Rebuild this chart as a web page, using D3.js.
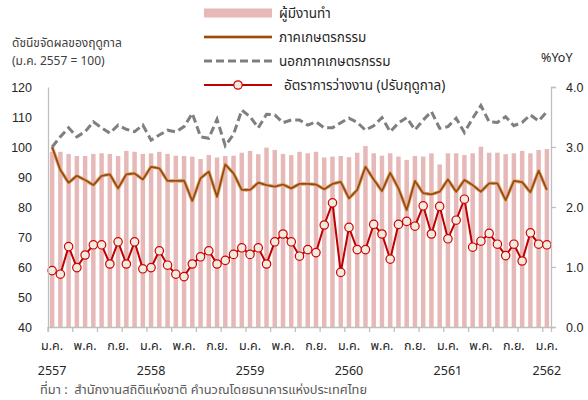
<!DOCTYPE html>
<html>
<head>
<meta charset="utf-8">
<script src="https://cdn.jsdelivr.net/npm/d3@7"></script>
<style>
  body { margin: 0; background: #fff; }
  svg { font-family: Tahoma, "Noto Sans Thai", "Leelawadee UI", sans-serif; }
</style>
</head>
<body>
<div id="container"></div>
<script>
// chart size
const width = 588;
const height = 400;
const marginLeft = 48;
const marginRight = 37;
const marginTop = 87;
const marginBottom = 73;

// month names and years for the categories (Jan 2557 .. Jan 2562)
const monthNames = ["ม.ค.", "ก.พ.", "มี.ค.", "เม.ย.", "พ.ค.", "มิ.ย.", "ก.ค.", "ส.ค.", "ก.ย.", "ต.ค.", "พ.ย.", "ธ.ค."];
const years = [2557, 2558, 2559, 2560, 2561, 2562];
const categories = years.flatMap(y => monthNames.map(m => `${m} ${y}`)).slice(0, 61);

// x tick labels (every 4 months) and year labels
const monthTickLabels = ["ม.ค.", "พ.ค.", "ก.ย."];
const yearTickLabels = ["2557", "2558", "2559", "2560", "2561", "2562"];

// ผู้มีงานทำ (index, bars)
const employed = [98.4, 98.4, 97.7, 97.0, 97.0, 97.7, 97.9, 97.7, 97.0, 98.7,
  98.4, 97.7, 97.9, 98.4, 97.7, 97.1, 97.0, 96.8, 96.0, 97.3,
  96.5, 97.0, 97.1, 98.1, 98.7, 97.6, 99.8, 99.0, 97.7, 97.3,
  98.4, 97.9, 98.4, 96.5, 96.8, 97.0, 96.6, 98.1, 100.3, 97.9,
  97.1, 97.9, 96.8, 95.7, 97.0, 96.8, 97.9, 94.2, 97.9, 97.9,
  97.3, 97.9, 100.1, 98.1, 98.1, 97.6, 97.9, 98.7, 97.9, 99.0, 99.3];

// ภาคเกษตรกรรม
const agri = [100.0, 92.3, 88.1, 90.4, 89.0, 87.3, 90.4, 90.9, 86.2, 90.9,
  91.2, 89.2, 93.4, 92.9, 88.7, 88.7, 88.8, 82.0, 89.6, 91.8,
  83.4, 94.2, 91.2, 85.7, 85.7, 88.1, 87.3, 86.8, 87.5, 86.2,
  87.7, 87.7, 87.5, 85.9, 87.7, 88.4, 82.9, 85.7, 93.4, 89.2,
  85.3, 91.4, 86.2, 79.0, 88.7, 84.6, 84.2, 85.1, 89.2, 85.1,
  89.0, 87.3, 85.1, 87.9, 87.9, 82.3, 88.7, 88.3, 84.9, 92.1, 85.7];

// นอกภาคเกษตรกรรม
const nonAgri = [100.0, 103.4, 106.4, 103.4, 105.1, 108.4, 106.4, 104.6, 107.3, 105.9,
  105.1, 107.3, 102.3, 104.0, 105.6, 105.0, 106.8, 111.2, 103.4, 102.9,
  109.2, 100.4, 104.2, 112.3, 110.1, 106.4, 110.9, 110.7, 108.1, 109.0,
  109.0, 107.3, 108.4, 106.4, 106.4, 108.1, 109.6, 108.2, 105.6, 107.1,
  109.8, 105.1, 108.0, 109.8, 105.7, 109.0, 111.8, 106.2, 106.8, 109.6,
  104.8, 109.6, 113.8, 108.4, 108.2, 110.1, 107.1, 108.2, 110.7, 108.7, 111.8];

// อัตราการว่างงาน (ปรับฤดูกาล), right axis
const unemployment = [0.94, 0.88, 1.34, 0.99, 1.20, 1.37, 1.37, 1.05, 1.42, 1.05,
  1.42, 0.97, 0.99, 1.27, 1.03, 0.88, 0.84, 1.05, 1.17, 1.27,
  1.05, 1.11, 1.21, 1.32, 1.21, 1.32, 1.05, 1.42, 1.55, 1.42,
  1.18, 1.29, 1.24, 1.70, 2.07, 0.91, 1.66, 1.29, 1.29, 1.71,
  1.55, 1.13, 1.71, 1.76, 1.68, 2.02, 1.55, 2.01, 1.47, 1.78,
  2.13, 1.33, 1.43, 1.56, 1.38, 1.19, 1.38, 1.10, 1.57, 1.38, 1.37];

const leftTicks = [40, 50, 60, 70, 80, 90, 100, 110, 120];
const rightTicks = [0, 1, 2, 3, 4];

const seriesNames = ["ผู้มีงานทำ", "ภาคเกษตรกรรม", "นอกภาคเกษตรกรรม", "อัตราการว่างงาน (ปรับฤดูกาล)"];

const axisColor = "#bfbfbf";
const textColor = "#262626";

const svg = d3.create("svg").attr("width", width).attr("height", height);

svg.append("rect").attr("width", width).attr("height", height).attr("fill", "#fff");

// Scales
const x = d3.scaleBand()
  .domain(categories)
  .range([marginLeft, width - marginRight]);

const yLeft = d3.scaleLinear()
  .domain([40, 120])
  .range([height - marginBottom, marginTop]);

const yRight = d3.scaleLinear()
  .domain([0, 4])
  .range([height - marginBottom, marginTop]);

const cx = d => x(d) + x.bandwidth() / 2;

// Bars
const barW = 4.5;
svg.append("g")
  .selectAll("rect")
  .data(employed)
  .join("rect")
  .attr("x", (d, i) => cx(categories[i]) - barW / 2)
  .attr("y", d => yLeft(d))
  .attr("width", barW)
  .attr("height", d => yLeft(40) - yLeft(d))
  .attr("fill", "#e6b9b8");

// Lines
const lineLeft = d3.line()
  .x((d, i) => cx(categories[i]))
  .y(d => yLeft(d));

const lineRight = d3.line()
  .x((d, i) => cx(categories[i]))
  .y(d => yRight(d));

svg.append("path")
  .datum(agri)
  .attr("fill", "none")
  .attr("stroke", "#dcae85")
  .attr("stroke-width", 3.6)
  .attr("stroke-linejoin", "round")
  .attr("d", lineLeft);

svg.append("path")
  .datum(agri)
  .attr("fill", "none")
  .attr("stroke", "#9c4a0c")
  .attr("stroke-width", 1.8)
  .attr("stroke-linejoin", "round")
  .attr("d", lineLeft);

svg.append("path")
  .datum(nonAgri)
  .attr("fill", "none")
  .attr("stroke", "#7f7f7f")
  .attr("stroke-width", 3)
  .attr("stroke-dasharray", "8,4")
  .attr("d", lineLeft);

svg.append("path")
  .datum(unemployment)
  .attr("fill", "none")
  .attr("stroke", "#c00000")
  .attr("stroke-width", 2)
  .attr("d", lineRight);

svg.append("g")
  .selectAll("circle")
  .data(unemployment)
  .join("circle")
  .attr("cx", (d, i) => cx(categories[i]))
  .attr("cy", d => yRight(d))
  .attr("r", 4.2)
  .attr("fill", "#eeece1")
  .attr("stroke", "#d40000")
  .attr("stroke-width", 1.2);

// Axes
const gLeft = svg.append("g")
  .attr("transform", `translate(${marginLeft},0)`)
  .call(d3.axisLeft(yLeft).tickValues(leftTicks).tickSize(0).tickPadding(16).tickFormat(d3.format("d")));

const gRight = svg.append("g")
  .attr("transform", `translate(${width - marginRight},0)`)
  .call(d3.axisRight(yRight).tickValues(rightTicks).tickSize(5).tickPadding(10).tickFormat(d3.format(".1f")));

const tickCats = categories.filter((d, i) => i % 3 === 0);
const gBottom = svg.append("g")
  .attr("transform", `translate(0,${height - marginBottom})`)
  .call(d3.axisBottom(x).tickValues(tickCats).tickSize(5).tickFormat(""))
  .call(g => g.selectAll(".tick").attr("transform", d => `translate(${x(d)},0)`));

// axis styling
[gLeft, gRight, gBottom].forEach(g => {
  g.select(".domain").attr("stroke", axisColor).attr("stroke-width", 1.3);
  g.selectAll(".tick line").attr("stroke", axisColor).attr("stroke-width", 1.3);
  g.selectAll(".tick text").attr("fill", textColor).attr("font-size", 12.5);
});

// x labels every 4 months
const labelCats = categories.filter((d, i) => i % 4 === 0);
svg.append("g")
  .selectAll("text")
  .data(labelCats)
  .join("text")
  .attr("x", d => cx(d))
  .attr("y", 350)
  .attr("text-anchor", "middle")
  .attr("font-size", 12.5)
  .attr("fill", textColor)
  .text((d, i) => monthTickLabels[i % 3]);

const yearCats = categories.filter((d, i) => i % 12 === 0);
svg.append("g")
  .selectAll("text")
  .data(yearCats)
  .join("text")
  .attr("x", d => cx(d))
  .attr("y", 375)
  .attr("text-anchor", "middle")
  .attr("font-size", 12.5)
  .attr("fill", textColor)
  .text((d, i) => yearTickLabels[i]);

// Axis titles
svg.append("text")
  .attr("x", 12).attr("y", 47)
  .attr("font-size", 12).attr("fill", "#404040")
  .text("ดัชนีขจัดผลของฤดูกาล");
svg.append("text")
  .attr("x", 12).attr("y", 65)
  .attr("font-size", 12).attr("fill", "#404040")
  .text("(ม.ค. 2557 = 100)");

svg.append("text")
  .attr("x", 541).attr("y", 62)
  .attr("font-size", 12.5).attr("fill", textColor)
  .text("%YoY");

// Legend
const legend = svg.append("g");
const lx0 = 204, lx1 = 272, ltx = 279;
const rows = [13, 37, 61, 85];

legend.append("rect")
  .attr("x", lx0).attr("y", rows[0] - 4.5)
  .attr("width", lx1 - lx0).attr("height", 9)
  .attr("fill", "#e6b9b8");

legend.append("line")
  .attr("x1", lx0).attr("x2", lx1).attr("y1", rows[1]).attr("y2", rows[1])
  .attr("stroke", "#dcae85").attr("stroke-width", 3.6);
legend.append("line")
  .attr("x1", lx0).attr("x2", lx1).attr("y1", rows[1]).attr("y2", rows[1])
  .attr("stroke", "#9c4a0c").attr("stroke-width", 1.8);

legend.append("line")
  .attr("x1", lx0).attr("x2", lx1).attr("y1", rows[2]).attr("y2", rows[2])
  .attr("stroke", "#7f7f7f").attr("stroke-width", 3).attr("stroke-dasharray", "8,4");

legend.append("line")
  .attr("x1", lx0).attr("x2", lx1).attr("y1", rows[3]).attr("y2", rows[3])
  .attr("stroke", "#c00000").attr("stroke-width", 2);
legend.append("circle")
  .attr("cx", (lx0 + lx1) / 2).attr("cy", rows[3]).attr("r", 4.2)
  .attr("fill", "#eeece1").attr("stroke", "#d40000").attr("stroke-width", 1.2);

legend.selectAll("text.lbl")
  .data(seriesNames)
  .join("text")
  .attr("class", "lbl")
  .attr("x", (d, i) => i === 3 ? ltx + 5 : ltx)
  .attr("y", (d, i) => rows[i] + 4.5)
  .attr("font-size", 13.5)
  .attr("fill", textColor)
  .text(d => d);

// Source note
svg.append("text")
  .attr("x", 40).attr("y", 394)
  .attr("font-size", 12.8)
  .attr("fill", "#595959")
  .attr("xml:space", "preserve")
  .text("ที่มา :  สำนักงานสถิติแห่งชาติ คำนวณโดยธนาคารแห่งประเทศไทย");

document.getElementById("container").append(svg.node());
</script>
</body>
</html>
